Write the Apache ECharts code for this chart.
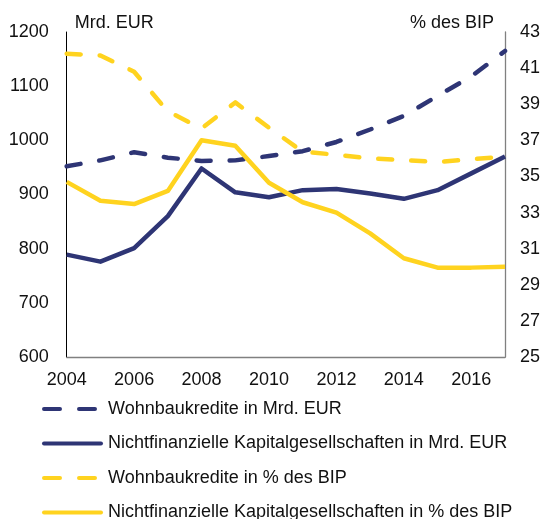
<!DOCTYPE html>
<html><head><meta charset="utf-8">
<script src="https://cdn.jsdelivr.net/npm/echarts@6/dist/echarts.min.js"></script>
<style>html,body{margin:0;padding:0;background:#fff}#c{width:545px;height:519px}</style>
</head><body><div id="c"></div>
<script>
const years = ['2004','2005','2006','2007','2008','2009','2010','2011','2012','2013','2014','2015','2016','2017'];
const wohnEur = [952, 963, 978, 968, 962, 963, 971, 980, 997, 1020, 1045, 1082, 1118, 1165];
const nfcEur = [789, 776, 801, 860, 948, 904, 895, 908, 910, 902, 892, 908, 939, 970];
const wohnBip = [41.8, 41.7, 40.8, 38.6, 37.66, 39.1, 37.7, 36.37, 36.2, 36.0, 35.9, 35.8, 35.95, 36.1];
const nfcBip = [34.7, 33.65, 33.47, 34.2, 37.0, 36.7, 34.65, 33.57, 33.0, 31.85, 30.47, 29.95, 29.95, 30.0];
const names = ['Wohnbaukredite in Mrd. EUR','Nichtfinanzielle Kapitalgesellschaften in Mrd. EUR','Wohnbaukredite in % des BIP','Nichtfinanzielle Kapitalgesellschaften in % des BIP'];
const leftTicks = {min:600, max:1200, interval:100};
const rightTicks = {min:25, max:43, interval:2};

const NAVY = '#2E3575', YEL = '#FFD31F';
const FONT = 'Liberation Sans, Arial, sans-serif';
const dash = [14, 19];
function ser(name, data, color, dashed, yi) {
  return {
    name, type:'line', data, yAxisIndex: yi, symbol:'none', smooth:false,
    lineStyle:{color, width:4.5, type: dashed ? dash : 'solid', cap: dashed ? 'round':'butt', join:'round'},
    itemStyle:{color}, z: dashed ? 2 : 3
  };
}
const DASH_ICON = 'path://M2,0H18A2,2 0 0 1 18,4H2A2,2 0 0 1 2,0Z M37,0H53A2,2 0 0 1 53,4H37A2,2 0 0 1 37,0Z';
const SOLID_ICON = 'path://M2,0H59A2,2 0 0 1 59,4H2A2,2 0 0 1 2,0Z';
const legendTops = [400, 434.5, 469, 503.5];
const legendDashed = [true, false, true, false];
const legends = names.map((n, i) => ({
  orient:'horizontal', left:42, top:legendTops[i], padding:0,
  itemWidth: legendDashed[i] ? 55 : 61, itemHeight:4.5,
  data:[{name:n, icon: legendDashed[i] ? DASH_ICON : SOLID_ICON}],
  textStyle:{color:'#111', fontSize:18, fontFamily:FONT, lineHeight:18,
    padding: legendDashed[i] ? [0,0,0,6] : 0}
}));
const chart = echarts.init(document.getElementById('c'), null, {renderer:'canvas'});
chart.setOption({
  animation:false,
  textStyle:{fontFamily:FONT},
  grid:{left:66.7, right:40, top:32, bottom:162},
  xAxis:{type:'category', data:years, boundaryGap:false,
    axisLine:{lineStyle:{color:'#808080', width:1.3}}, axisTick:{show:false},
    axisLabel:{interval:1, color:'#111', fontSize:18, fontFamily:FONT, margin:14},
    splitLine:{show:false}},
  yAxis:[
    {type:'value', position:'left', min:leftTicks.min, max:leftTicks.max, interval:leftTicks.interval,
     name:'Mrd. EUR', nameLocation:'end', nameGap:0,
     nameTextStyle:{color:'#111', fontSize:18, fontFamily:FONT, align:'left', padding:[0,0,0,8]},
     axisLine:{show:true, lineStyle:{color:'#000', width:1}}, axisTick:{show:false},
     axisLabel:{color:'#111', fontSize:18, fontFamily:FONT, margin:18, formatter: v => String(v)}, splitLine:{show:false}},
    {type:'value', position:'right', min:rightTicks.min, max:rightTicks.max, interval:rightTicks.interval,
     name:'% des BIP', nameLocation:'end', nameGap:0,
     nameTextStyle:{color:'#111', fontSize:18, fontFamily:FONT, align:'right', padding:[0,11,0,0]},
     axisLine:{show:true, lineStyle:{color:'#808080', width:1.3}}, axisTick:{show:false},
     axisLabel:{color:'#111', fontSize:18, fontFamily:FONT, margin:15, formatter: v => String(v)}, splitLine:{show:false}}
  ],
  legend: legends,
  series:[
    ser(names[0], wohnEur, NAVY, true, 0),
    ser(names[1], nfcEur, NAVY, false, 0),
    ser(names[2], wohnBip, YEL, true, 1),
    ser(names[3], nfcBip, YEL, false, 1)
  ]
});
</script></body></html>
